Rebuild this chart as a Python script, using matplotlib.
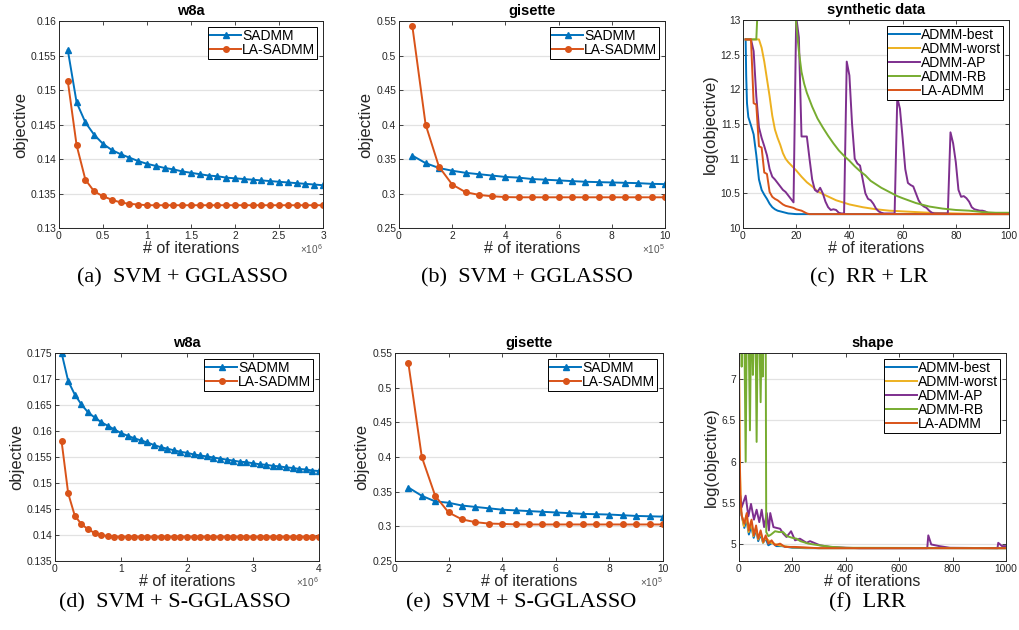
import numpy as np
import matplotlib
matplotlib.use('Agg')
import matplotlib.pyplot as plt
from matplotlib.ticker import FuncFormatter

plt.rcParams['font.family'] = ['Liberation Sans', 'DejaVu Sans']
plt.rcParams['mathtext.default'] = 'regular'

BLUE = '#0072BD'
ORANGE = '#D95319'
YELLOW = '#EDB120'
PURPLE = '#7E2F8E'
GREEN = '#77AC30'
DARK = '#262626'

## (a) w8a, SVM + GGLASSO, x in units of 1e6
w8a_a_iters = np.arange(1, 31) * 0.1
w8a_a_sadmm = [0.1558, 0.1482, 0.1453, 0.1435, 0.1422, 0.1413, 0.1407, 0.1402, 0.1397, 0.1393,
               0.1390, 0.1387, 0.1385, 0.1382, 0.1380, 0.1378, 0.1376, 0.1375, 0.1373, 0.1372,
               0.1371, 0.1370, 0.1369, 0.1368, 0.1367, 0.1366, 0.1365, 0.1364, 0.1363, 0.1362]
w8a_a_la = [0.1513, 0.1420, 0.1370, 0.1353, 0.1346, 0.1341, 0.1337, 0.1335, 0.1334, 0.1333,
            0.1333, 0.1333, 0.1333, 0.1333, 0.1333, 0.1333, 0.1333, 0.1333, 0.1333, 0.1333,
            0.1333, 0.1333, 0.1333, 0.1333, 0.1333, 0.1333, 0.1333, 0.1333, 0.1333, 0.1333]

## (b) gisette, SVM + GGLASSO, x in units of 1e5
gis_b_iters = np.arange(1, 21) * 0.5
gis_b_sadmm = [0.355, 0.344, 0.337, 0.333, 0.330, 0.328, 0.326, 0.324, 0.323, 0.321,
               0.320, 0.319, 0.318, 0.317, 0.3165, 0.316, 0.3155, 0.315, 0.314, 0.3136]
gis_b_la = [0.543, 0.400, 0.339, 0.313, 0.302, 0.298, 0.296, 0.2948, 0.2945, 0.2945,
            0.2945, 0.2945, 0.2945, 0.2945, 0.2945, 0.2945, 0.2945, 0.2945, 0.2945, 0.2945]

## (c) synthetic data, RR + LR
syn_best_x = [1, 1.2, 1.5, 2, 3, 4, 5, 6, 7, 8, 9, 10, 11, 12, 13, 15, 17, 20, 100]
syn_best_y = [12.72, 12.2, 11.8, 11.6, 11.48, 11.35, 11.05, 10.7, 10.55, 10.48, 10.42, 10.35,
              10.3, 10.27, 10.25, 10.23, 10.21, 10.2, 10.2]
syn_worst_x = [1, 6, 7, 8, 9, 10, 11, 12, 13, 14, 15, 16, 17, 18, 20, 22, 24, 26, 28, 30,
               35, 40, 45, 50, 55, 60, 70, 80, 90, 100]
syn_worst_y = [12.72, 12.72, 12.6, 12.4, 12.15, 11.9, 11.62, 11.42, 11.3, 11.2, 11.08, 11.0,
               10.95, 10.91, 10.83, 10.74, 10.66, 10.6, 10.53, 10.49, 10.4, 10.34, 10.3, 10.27,
               10.25, 10.24, 10.22, 10.21, 10.2, 10.2]
syn_ap_x = list(range(1, 101))
syn_ap_y = [12.72, 12.72, 12.72, 12.55, 11.9, 11.45, 11.3, 11.18, 11.05, 10.85,
            10.74, 10.7, 10.65, 10.6, 10.55, 10.52, 10.47, 10.42, 10.37, 13.05,
            12.75, 11.32, 11.32, 11.32, 11.0, 10.7, 10.55, 10.52, 10.58, 10.5,
            10.38, 10.3, 10.26, 10.27, 10.26, 10.22, 10.21, 10.21, 12.4, 12.2,
            11.5, 11.0, 10.93, 10.9, 10.7, 10.5, 10.42, 10.4, 10.35, 10.28,
            10.24, 10.22, 10.21, 10.21, 10.21, 10.21, 10.21, 11.88, 11.72, 11.3,
            10.85, 10.65, 10.62, 10.6, 10.5, 10.4, 10.34, 10.31, 10.29, 10.25,
            10.22, 10.21, 10.21, 10.21, 10.21, 10.21, 10.21, 11.38, 11.22, 10.95,
            10.55, 10.45, 10.46, 10.43, 10.38, 10.3, 10.27, 10.26, 10.25, 10.25,
            10.24, 10.22, 10.21, 10.21, 10.21, 10.21, 10.21, 10.21, 10.21, 10.21]
syn_rb_x = [1, 5, 6, 19, 20, 21, 22, 23, 24, 26, 28, 30, 32, 34, 36, 38, 40, 42, 44, 46, 48,
            50, 52, 55, 58, 60, 65, 70, 75, 80, 85, 90, 95, 100]
syn_rb_y = [12.72, 12.72, 13.6, 13.6, 12.95, 12.55, 12.25, 12.08, 11.95, 11.75, 11.58, 11.45,
            11.33, 11.22, 11.12, 11.04, 10.97, 10.89, 10.82, 10.76, 10.68, 10.63, 10.58, 10.52,
            10.46, 10.43, 10.36, 10.31, 10.28, 10.26, 10.25, 10.23, 10.22, 10.22]
syn_la_x = list(range(1, 26)) + [100]
syn_la_y = [12.72, 12.72, 12.72, 11.8, 11.78, 11.18, 11.16, 10.8, 10.78, 10.52,
            10.45, 10.42, 10.4, 10.37, 10.34, 10.32, 10.31, 10.3, 10.29, 10.27,
            10.26, 10.25, 10.23, 10.21, 10.2, 10.2]

## (d) w8a, SVM + S-GGLASSO, x in units of 1e6
w8a_d_iters = np.arange(1, 41) * 0.1
w8a_d_sadmm = [0.1750, 0.1696, 0.1670, 0.1651, 0.1636, 0.1626, 0.1617, 0.1610, 0.1603, 0.1596,
               0.1591, 0.1586, 0.1582, 0.1578, 0.1573, 0.1569, 0.1566, 0.1563, 0.1560, 0.1558,
               0.1555, 0.1553, 0.1551, 0.1549, 0.1547, 0.1545, 0.1543, 0.1541, 0.1540, 0.1538,
               0.1536, 0.1535, 0.1533, 0.1532, 0.1530, 0.1529, 0.1527, 0.1526, 0.1524, 0.1523]
w8a_d_la = [0.1580, 0.1480, 0.1437, 0.1421, 0.1411, 0.1404, 0.1400, 0.1398, 0.1397, 0.1397,
            0.1397, 0.1397, 0.1397, 0.1397, 0.1397, 0.1397, 0.1397, 0.1397, 0.1397, 0.1397,
            0.1397, 0.1397, 0.1397, 0.1397, 0.1397, 0.1397, 0.1397, 0.1397, 0.1397, 0.1397,
            0.1397, 0.1397, 0.1397, 0.1397, 0.1397, 0.1397, 0.1397, 0.1397, 0.1397, 0.1397]

## (e) gisette, SVM + S-GGLASSO, x in units of 1e5
gis_e_iters = np.arange(1, 21) * 0.5
gis_e_sadmm = [0.356, 0.344, 0.336, 0.334, 0.330, 0.328, 0.326, 0.324, 0.323, 0.322,
               0.321, 0.320, 0.319, 0.318, 0.3175, 0.317, 0.316, 0.315, 0.3145, 0.314]
gis_e_la = [0.535, 0.400, 0.344, 0.320, 0.310, 0.306, 0.304, 0.3035, 0.3028, 0.3027,
            0.3027, 0.3027, 0.3027, 0.3027, 0.3027, 0.3027, 0.3027, 0.3027, 0.3027, 0.3027]

## (f) shape, LRR
shp_best_x = [0, 5, 10, 20, 28, 37, 46, 55, 64, 72, 81, 90, 100, 110, 125, 140, 160, 200, 250, 1000]
shp_best_y = [5.65, 5.45, 5.35, 5.2, 5.3, 5.12, 5.22, 5.08, 5.18, 5.04, 5.12, 5.02, 5.07, 4.99,
              5.02, 4.98, 4.98, 4.96, 4.955, 4.955]
shp_worst_x = [0, 3, 8, 18, 27, 36, 45, 54, 63, 72, 81, 90, 100, 120, 150, 200, 300, 1000]
shp_worst_y = [7.2, 6.0, 5.4, 5.22, 5.35, 5.15, 5.28, 5.1, 5.2, 5.06, 5.15, 5.02, 5.08, 5.02,
               4.99, 4.965, 4.955, 4.955]
shp_ap_x = [0, 10, 25, 35, 45, 56, 66, 76, 85, 94, 104, 112, 117, 129, 141, 154, 166, 178, 195,
            210, 228, 253, 266, 303, 341, 403, 450, 600, 705, 709, 720, 750, 790, 968, 971, 985, 1000]
shp_ap_y = [5.7, 5.45, 5.59, 5.34, 5.49, 5.3, 5.42, 5.27, 5.42, 5.21, 5.38, 5.17, 5.38, 5.21,
            5.2, 5.19, 5.13, 5.09, 5.16, 5.05, 5.07, 5.02, 5.04, 4.99, 4.97, 4.96, 4.955, 4.955,
            4.955, 5.11, 5.0, 4.98, 4.96, 4.955, 5.02, 4.98, 4.98]
shp_rb_x = [0, 4, 8, 10, 13, 20, 25, 29, 36, 41, 45, 49, 52, 56, 62, 66, 70, 76, 81, 85, 89,
            92, 100, 102, 110, 120, 135, 150, 165, 180, 200, 215, 230, 260, 300, 350, 400, 1000]
shp_rb_y = [7.25, 7.6, 7.6, 7.15, 7.6, 7.6, 6.0, 7.6, 7.6, 6.38, 7.6, 7.6, 7.05, 7.6, 7.6, 6.24,
            7.6, 7.6, 6.72, 7.6, 7.03, 7.6, 7.6, 5.15, 5.1, 5.12, 5.16, 5.15, 5.15, 5.1, 5.08,
            5.07, 5.04, 5.01, 4.99, 4.97, 4.96, 4.955]
shp_la_x = [0, 2, 5, 10, 20, 29, 37, 47, 56, 64, 72, 81, 91, 100, 110, 122, 135, 154, 172, 210,
            297, 1000]
shp_la_y = [7.22, 6.2, 5.6, 5.35, 5.25, 5.38, 5.17, 5.3, 5.11, 5.23, 5.07, 5.17, 5.03, 5.11,
            5.01, 5.05, 4.99, 5.01, 4.97, 4.97, 4.955, 4.955]

fmt = FuncFormatter(lambda v, p: '%g' % round(v, 6))

def style(ax, title, xlim, xticks, ylim, yticks, ylabel, expo=None):
    ax.set_xlim(xlim)
    ax.set_ylim(ylim)
    ax.set_xticks(xticks)
    ax.set_yticks(yticks)
    ax.xaxis.set_major_formatter(fmt)
    ax.yaxis.set_major_formatter(fmt)
    ax.yaxis.grid(True, color='#e2e2e2', lw=0.9)
    ax.set_axisbelow(True)
    ax.tick_params(direction='in', top=True, right=True, length=3, width=0.6,
                   labelsize=7.4, colors=DARK, pad=2)
    for s in ax.spines.values():
        s.set_color(DARK)
        s.set_linewidth(0.7)
    ax.set_title(title, fontsize=10.5, fontweight='bold', pad=4)
    ax.set_xlabel('# of iterations', fontsize=11.5, color=DARK, labelpad=0)
    ax.set_ylabel(ylabel, fontsize=12, color=DARK, labelpad=2)
    if expo:
        ax.text(1.0, -0.1, '\u00d710$^{%d}$' % expo, transform=ax.transAxes,
                ha='right', va='center', fontsize=7.2, color='#555555')

def legend(ax):
    lgd = ax.legend(loc='upper right', fontsize=10, frameon=True, fancybox=False,
                    edgecolor='black', framealpha=1, borderpad=0.15, labelspacing=0.0,
                    handlelength=2.2, handletextpad=0.1, borderaxespad=0.4)
    lgd.get_frame().set_linewidth(0.7)

fig = plt.figure(figsize=(10.19, 6.30), dpi=100)
W, H = 1019.0, 630.0
def add_ax(l, r, t, b):
    return fig.add_axes([l / W, 1 - b / H, (r - l) / W, (b - t) / H])

lw = 1.4

# (a)
ax = add_ax(59, 323, 21, 228)
ax.plot(w8a_a_iters, w8a_a_sadmm, color=BLUE, lw=lw, marker='^', ms=4.5, label='SADMM')
ax.plot(w8a_a_iters, w8a_a_la, color=ORANGE, lw=lw, marker='o', ms=4, label='LA-SADMM')
style(ax, 'w8a', (0, 3), np.arange(0, 3.01, 0.5), (0.13, 0.16), np.arange(0.13, 0.1601, 0.005),
      'objective', 6)
legend(ax)

# (b)
ax = add_ax(399, 665, 21, 228)
ax.plot(gis_b_iters, gis_b_sadmm, color=BLUE, lw=lw, marker='^', ms=4.5, label='SADMM')
ax.plot(gis_b_iters, gis_b_la, color=ORANGE, lw=lw, marker='o', ms=4, label='LA-SADMM')
style(ax, 'gisette', (0, 10), np.arange(0, 10.1, 2), (0.25, 0.55), np.arange(0.25, 0.5501, 0.05),
      'objective', 5)
legend(ax)

# (c)
ax = add_ax(743, 1009, 20, 228)
ax.plot(syn_best_x, syn_best_y, color=BLUE, lw=lw, label='ADMM-best')
ax.plot(syn_worst_x, syn_worst_y, color=YELLOW, lw=lw, label='ADMM-worst')
ax.plot(syn_ap_x, syn_ap_y, color=PURPLE, lw=lw, label='ADMM-AP')
ax.plot(syn_rb_x, syn_rb_y, color=GREEN, lw=lw, label='ADMM-RB')
ax.plot(syn_la_x, syn_la_y, color=ORANGE, lw=lw, label='LA-ADMM')
style(ax, 'synthetic data', (0, 100), np.arange(0, 101, 20), (10, 13), np.arange(10, 13.01, 0.5),
      'log(objective)')
legend(ax)

# (d)
ax = add_ax(55, 319, 353, 561)
ax.plot(w8a_d_iters, w8a_d_sadmm, color=BLUE, lw=lw, marker='^', ms=4.5, label='SADMM')
ax.plot(w8a_d_iters, w8a_d_la, color=ORANGE, lw=lw, marker='o', ms=4, label='LA-SADMM')
style(ax, 'w8a', (0, 4), np.arange(0, 4.01, 1), (0.135, 0.175), np.arange(0.135, 0.1751, 0.005),
      'objective', 6)
legend(ax)

# (e)
ax = add_ax(395, 663, 353, 561)
ax.plot(gis_e_iters, gis_e_sadmm, color=BLUE, lw=lw, marker='^', ms=4.5, label='SADMM')
ax.plot(gis_e_iters, gis_e_la, color=ORANGE, lw=lw, marker='o', ms=4, label='LA-SADMM')
style(ax, 'gisette', (0, 10), np.arange(0, 10.1, 2), (0.25, 0.55), np.arange(0.25, 0.5501, 0.05),
      'objective', 5)
legend(ax)

# (f)
ax = add_ax(739, 1006, 353, 561)
ax.plot(shp_best_x, shp_best_y, color=BLUE, lw=lw, label='ADMM-best')
ax.plot(shp_worst_x, shp_worst_y, color=YELLOW, lw=lw, label='ADMM-worst')
ax.plot(shp_ap_x, shp_ap_y, color=PURPLE, lw=lw, label='ADMM-AP')
ax.plot(shp_rb_x, shp_rb_y, color=GREEN, lw=lw, label='ADMM-RB')
ax.plot(shp_la_x, shp_la_y, color=ORANGE, lw=lw, label='LA-ADMM')
style(ax, 'shape', (0, 1000), np.arange(0, 1001, 200), (4.8, 7.315), np.arange(5, 7.01, 0.5),
      'log(objective)')
legend(ax)

captions = [(182, 278, '(a)  SVM + GGLASSO'), (527, 278, '(b)  SVM + GGLASSO'),
            (869, 278, '(c)  RR + LR'), (175, 603, '(d)  SVM + S-GGLASSO'),
            (521, 603, '(e)  SVM + S-GGLASSO'), (867, 603, '(f)  LRR')]
for cx, cy, txt in captions:
    fig.text(cx / W, 1 - cy / H, txt, ha='center', va='center', fontsize=16,
             family=['Liberation Serif', 'DejaVu Serif'])

fig.savefig('out.png', dpi=100)
